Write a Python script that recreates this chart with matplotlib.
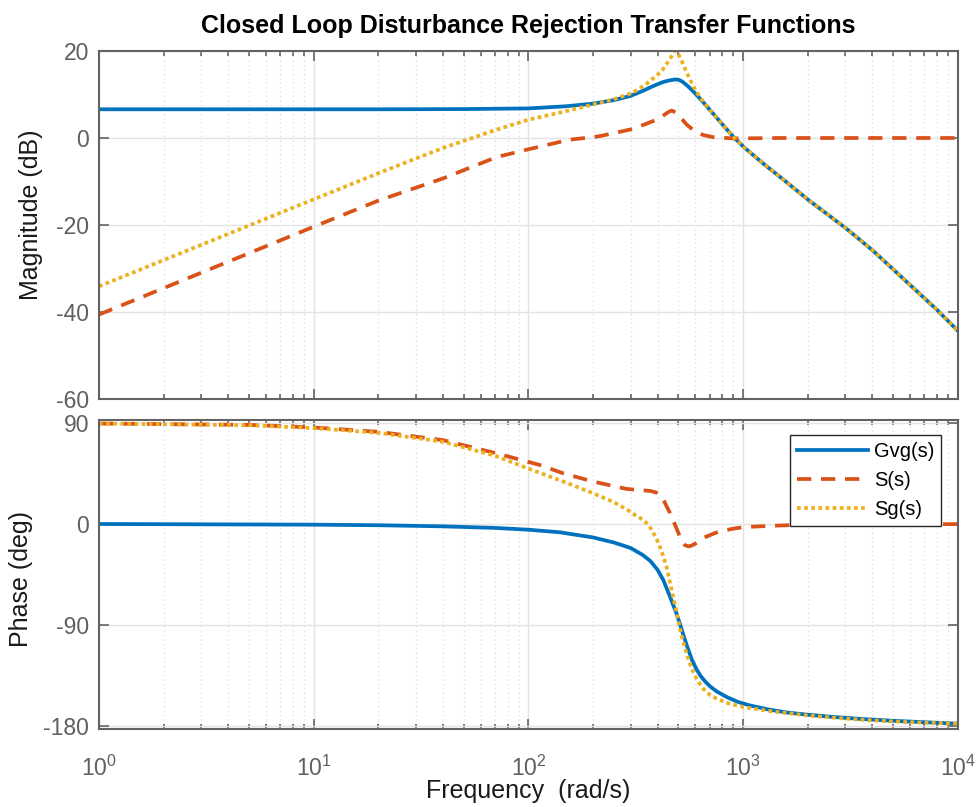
import matplotlib
matplotlib.use("Agg")
import matplotlib.pyplot as plt
from matplotlib.ticker import LogLocator, NullFormatter, FixedLocator

# values
w_mag_gvg = [1, 20, 50, 100, 150, 200, 250, 300, 340, 380, 420, 450, 480, 500, 520, 545, 570,
             600, 650, 714, 809, 900, 1009, 1250, 1500, 2022, 3040, 4048, 6000, 8000, 10000]
mag_gvg = [6.6, 6.6, 6.65, 6.8, 7.3, 7.9, 8.7, 9.7, 10.8, 11.9, 12.8, 13.2, 13.45, 13.4, 13.0, 12.2, 11.3,
           10.2, 8.3, 6.0, 2.9, 0.3, -2.1, -6.0, -9.1, -14.3, -20.9, -26.0, -33.8, -39.5, -44.3]

w_mag_s = [1, 10, 20, 40, 71, 100, 155, 200, 219, 308, 400, 426, 450, 465, 485, 500, 520, 546, 587,
           650, 726, 900, 1500, 10000]
mag_s = [-40.6, -20.4, -14.4, -9.3, -4.4, -2.6, -0.4, 0.2, 0.5, 2.1, 4.3, 5.2, 6.0, 6.3, 5.9, 5.1, 4.3, 3.1, 1.8,
         0.7, 0.2, -0.1, 0.0, 0.0]

w_mag_sg = [1, 10, 20, 40, 71, 100, 145, 200, 250, 303, 350, 403, 425, 457, 482, 500, 517, 546, 575,
            601, 653, 714, 809, 900, 1009, 1250, 1500, 2022, 3040, 4048, 6000, 8000, 10000]
mag_sg = [-34.1, -14.1, -8.1, -2.3, 1.9, 4.2, 6.0, 7.7, 8.9, 10.3, 12.2, 14.7, 15.9, 18.2, 20.1, 19.2, 17.8, 15.1,
          12.8, 10.9, 8.3, 6.0, 2.9, 0.3, -2.1, -6.0, -9.1, -14.3, -20.9, -26.0, -33.8, -39.5, -44.3]

w_ph_gvg = [1, 10, 20, 40, 70, 100, 140, 200, 250, 300, 340, 370, 400, 425, 457, 490, 508, 527,
            546, 577, 608, 635, 665, 702, 754, 839, 950, 1076, 1300, 1600, 2000, 2600, 3500, 5000, 7000, 10000]
ph_gvg = [0, -0.6, -1.1, -2.1, -3.5, -5.1, -7.4, -12.0, -16.5, -21.5, -27.5, -33.0, -41.0, -50.0, -65.0, -80.0,
          -89.0, -99.0, -108.0, -121.0, -130.0, -135.8, -140.5, -145.0, -149.5, -154.5, -159.0, -162.0, -165.5,
          -168.3, -170.3, -172.2, -174.0, -175.7, -177.0, -178.3]

w_ph_s = [1, 5, 10, 20, 40, 71, 113, 145, 200, 287, 330, 370, 395, 410, 425, 440, 457, 473, 490,
          505, 520, 535, 556, 575, 600, 653, 720, 780, 900, 1009, 1400, 1778, 2500, 4000, 10000]
ph_s = [89.7, 88.5, 86.2, 82.3, 74.9, 63.1, 52.7, 45.3, 37.9, 31.3, 30.3, 29.5, 28.0, 26.0, 22.0, 16.0, 9.8,
        3.0, -4.0, -10.0, -15.5, -18.8, -20.0, -19.3, -17.5, -12.4, -9.0, -6.5, -4.2, -2.7, -1.5, -0.9,
        -0.5, -0.3, -0.1]

w_ph_sg = [1, 5, 10, 20, 40, 70, 100, 145, 200, 250, 290, 320, 343, 365, 382, 400, 412, 425, 440,
           457, 475, 490, 508, 527, 550, 577, 610, 653, 700, 754, 850, 1009, 1300, 2000, 3000, 4000,
           6000, 10000]
ph_sg = [89.7, 88.2, 85.6, 81.4, 73.4, 61.0, 49.5, 38.0, 27.5, 19.5, 12.5, 7.0, 3.8, -1.5, -8.0, -15.5, -21.5,
         -28.8, -38.0, -52.4, -67.0, -79.0, -93.0, -105.7, -118.0, -129.4, -139.0, -147.2, -152.5, -156.0,
         -160.0, -163.5, -166.8, -171.0, -173.8, -175.4, -177.0, -178.3]

labels = ['Gvg(s)', 'S(s)', 'Sg(s)']
colors = ['#0072BD', '#D95319', '#EDB120']
styles = ['-', (0, (3.8, 2.6)), (0, (1.0, 0.9))]

plt.rcParams['font.family'] = ['Liberation Sans', 'DejaVu Sans']
plt.rcParams['mathtext.fontset'] = 'custom'
plt.rcParams['mathtext.rm'] = 'Liberation Sans'
plt.rcParams['axes.unicode_minus'] = False

axis_grey = '#636363'
label_grey = '#5f5f5f'

fig = plt.figure(figsize=(9.78, 8.07), dpi=100)
ax1 = fig.add_axes([0.1012, 0.5056, 0.8781, 0.4312])
ax2 = fig.add_axes([0.1012, 0.0963, 0.8781, 0.3829])

mags = [(w_mag_gvg, mag_gvg), (w_mag_s, mag_s), (w_mag_sg, mag_sg)]
phases = [(w_ph_gvg, ph_gvg), (w_ph_s, ph_s), (w_ph_sg, ph_sg)]

for i in range(3):
    ax1.semilogx(mags[i][0], mags[i][1], color=colors[i], linestyle=styles[i], lw=2.7, label=labels[i])
    ax2.semilogx(phases[i][0], phases[i][1], color=colors[i], linestyle=styles[i], lw=2.7, label=labels[i])

ax1.set_ylim(-60, 20)
ax1.set_yticks([-60, -40, -20, 0, 20])
ax2.set_ylim(-183.3, 92.6)
ax2.set_yticks([-180, -90, 0, 90])

for ax in (ax1, ax2):
    ax.set_xlim(1, 1e4)
    ax.xaxis.set_major_locator(FixedLocator([1, 10, 100, 1000, 10000]))
    ax.xaxis.set_minor_locator(LogLocator(base=10, subs=range(2, 10), numticks=20))
    ax.xaxis.set_minor_formatter(NullFormatter())
    ax.grid(True, which='major', color='#e3e3e3', lw=1.0, linestyle='-')
    ax.grid(True, which='minor', axis='x', color='#d6d6d6', lw=0.8, linestyle=(0, (1, 3)))
    ax.set_axisbelow(True)
    ax.tick_params(which='both', direction='in', top=True, right=True, colors=axis_grey,
                   labelcolor=label_grey, labelsize=16.5, width=1.2)
    ax.tick_params(which='major', length=7)
    ax.tick_params(which='minor', length=3.5)
    ax.tick_params(axis='y', which='major', pad=7)
    for sp in ax.spines.values():
        sp.set_color(axis_grey)
        sp.set_linewidth(1.5)

ax1.set_xticklabels([])
ax2.set_xticklabels(['$10^0$', '$10^1$', '$10^2$', '$10^3$', '$10^4$'])
ax2.tick_params(axis='x', which='major', pad=19)

ax1.set_ylabel('Magnitude (dB)', fontsize=18, color='#1a1a1a')
ax2.set_ylabel('Phase (deg)', fontsize=18, color='#1a1a1a')
ax1.yaxis.set_label_coords(-0.065, 0.529)
ax2.yaxis.set_label_coords(-0.077, 0.485)
ax2.set_xlabel('Frequency  (rad/s)', fontsize=18, color='#1a1a1a', labelpad=-1)
ax1.set_title('Closed Loop Disturbance Rejection Transfer Functions', fontsize=18,
              fontweight='bold', pad=13)

leg = ax2.legend(loc='upper right', bbox_to_anchor=(0.981, 0.953), borderaxespad=0,
                 fontsize=14.5, handlelength=3.5, frameon=True, fancybox=False,
                 edgecolor='#262626', framealpha=1, borderpad=0.35, labelspacing=0.5,
                 handletextpad=0.3)
leg.get_frame().set_linewidth(1.0)

fig.savefig('out.png', dpi=100)
